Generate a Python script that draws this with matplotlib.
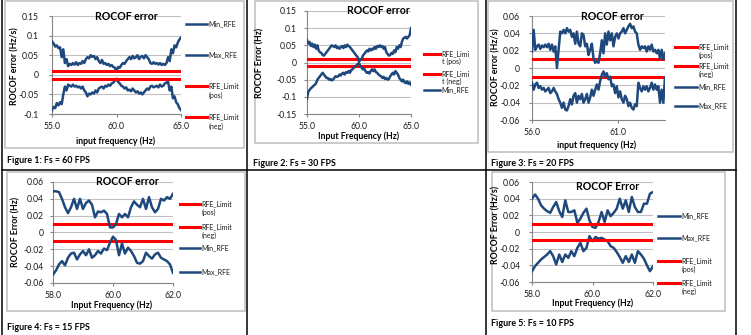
import numpy as np
import matplotlib
matplotlib.use("Agg")
import matplotlib.pyplot as plt
from matplotlib.lines import Line2D
from matplotlib.patches import Rectangle

plt.rcParams['font.family'] = ['Lato', 'DejaVu Sans']

W, H = 751, 335
BLUE = '#1F497D'
RED = '#FF0000'
GRID = '#C0C0C0'
AXIS = '#868686'
LIMIT = 0.01

# Fs = 60 FPS, sweep 55-65 Hz
fs60_max = [0.085, 0.080, 0.072, 0.075, 0.068, 0.070, 0.045, 0.065,
            0.030, 0.040, 0.022, 0.028, 0.025, 0.030, 0.026, 0.032,
            0.025, 0.030, 0.028, 0.035, 0.030, 0.040, 0.045, 0.042,
            0.050, 0.046, 0.048, 0.040, 0.045, 0.035, 0.030, 0.038,
            0.028, 0.030, 0.025, 0.028, 0.022, 0.025, 0.020, 0.018,
            0.010, 0.020, 0.018, 0.025, 0.030, 0.028, 0.035, 0.040,
            0.045, 0.040, 0.048, 0.042, 0.045, 0.050, 0.040, 0.046,
            0.048, 0.042, 0.050, 0.045, 0.040, 0.030, 0.028, 0.032,
            0.028, 0.030, 0.026, 0.030, 0.025, 0.028, 0.025, 0.030,
            0.045, 0.035, 0.065, 0.055, 0.075, 0.070, 0.082, 0.090,
            0.095]
fs60_min = [-0.090, -0.082, -0.085, -0.072, -0.078, -0.070, -0.075, -0.050,
            -0.030, -0.040, -0.025, -0.028, -0.030, -0.025, -0.030, -0.028,
            -0.032, -0.030, -0.035, -0.030, -0.040, -0.045, -0.055, -0.048,
            -0.050, -0.045, -0.048, -0.040, -0.045, -0.035, -0.032, -0.030,
            -0.035, -0.028, -0.030, -0.025, -0.028, -0.022, -0.020, -0.015,
            -0.010, -0.018, -0.022, -0.028, -0.030, -0.035, -0.032, -0.040,
            -0.038, -0.042, -0.035, -0.040, -0.045, -0.042, -0.048, -0.045,
            -0.050, -0.045, -0.040, -0.035, -0.038, -0.030, -0.028, -0.032,
            -0.030, -0.028, -0.032, -0.025, -0.030, -0.028, -0.022, -0.020,
            -0.018, -0.040, -0.030, -0.060, -0.055, -0.070, -0.075, -0.085,
            -0.090]

# Fs = 30 FPS, sweep 55-65 Hz
fs30_max = [0.065, 0.055, 0.060, 0.048, 0.055, 0.045, 0.052, 0.040,
            0.050, 0.035, 0.030, 0.028, 0.022, 0.020, 0.025, 0.030,
            0.035, 0.040, 0.045, 0.050, 0.048, 0.045, 0.050, 0.042,
            0.045, 0.040, 0.045, 0.048, 0.042, 0.050, 0.045, 0.052,
            0.048, 0.045, 0.040, 0.035, 0.030, 0.025, 0.020, 0.015,
            0.002, 0.008, 0.010, 0.020, 0.025, 0.030, 0.035, 0.032,
            0.040, 0.035, 0.040, 0.038, 0.045, 0.040, 0.048, 0.045,
            0.050, 0.045, 0.048, 0.040, 0.045, 0.030, 0.025, 0.020,
            0.022, 0.028, 0.025, 0.035, 0.030, 0.045, 0.040, 0.050,
            0.045, 0.060, 0.070, 0.072, 0.075, 0.070, 0.075, 0.080,
            0.100]
fs30_min = [-0.105, -0.085, -0.080, -0.075, -0.072, -0.068, -0.065, -0.060,
            -0.050, -0.045, -0.040, -0.035, -0.030, -0.035, -0.040, -0.045,
            -0.045, -0.050, -0.048, -0.052, -0.050, -0.045, -0.040, -0.042,
            -0.040, -0.035, -0.038, -0.032, -0.030, -0.035, -0.028, -0.030,
            -0.025, -0.030, -0.022, -0.020, -0.015, -0.012, -0.008, -0.005,
            -0.002, -0.010, -0.015, -0.020, -0.018, -0.025, -0.030, -0.028,
            -0.032, -0.025, -0.020, -0.025, -0.020, -0.028, -0.030, -0.035,
            -0.038, -0.040, -0.045, -0.042, -0.048, -0.045, -0.050, -0.048,
            -0.040, -0.035, -0.030, -0.035, -0.025, -0.030, -0.035, -0.045,
            -0.050, -0.055, -0.050, -0.058, -0.060, -0.055, -0.062, -0.058,
            -0.065]

# Fs = 20 FPS, sweep 56-63.7 Hz
fs20_max = [0.019, 0.044, 0.021, 0.025, 0.027, 0.022, 0.026, 0.024, 0.027,
            0.024, 0.028, 0.021, 0.027, 0.019, 0.025, 0.000, 0.021, 0.042,
            0.040, 0.044, 0.040, 0.046, 0.042, 0.044, 0.036, 0.040, 0.028,
            0.042, 0.028, 0.025, 0.040, 0.038, 0.025, 0.028, 0.015, 0.021,
            0.028, 0.011, 0.006, 0.008, 0.006, 0.017, 0.032, 0.017, 0.040,
            0.027, 0.042, 0.032, 0.040, 0.025, 0.036, 0.040, 0.034, 0.040,
            0.042, 0.046, 0.040, 0.044, 0.048, 0.051, 0.046, 0.048, 0.042,
            0.040, 0.027, 0.021, 0.025, 0.023, 0.025, 0.019, 0.025, 0.021,
            0.027, 0.019, 0.021, 0.017, 0.021, 0.011, 0.021, 0.010, 0.017]
fs20_min = [-0.017, -0.025, -0.019, -0.017, -0.023, -0.021, -0.025, -0.023, -0.027,
            -0.025, -0.023, -0.029, -0.027, -0.023, -0.027, -0.030, -0.036, -0.040,
            -0.046, -0.040, -0.048, -0.049, -0.044, -0.036, -0.042, -0.032, -0.029,
            -0.040, -0.032, -0.036, -0.030, -0.040, -0.036, -0.030, -0.040, -0.034,
            -0.025, -0.032, -0.025, -0.019, -0.025, -0.015, -0.008, -0.004, -0.010,
            -0.006, -0.013, -0.010, -0.021, -0.019, -0.029, -0.021, -0.034, -0.027,
            -0.036, -0.040, -0.032, -0.036, -0.044, -0.040, -0.046, -0.048, -0.042,
            -0.044, -0.017, -0.023, -0.027, -0.021, -0.025, -0.021, -0.027, -0.023,
            -0.017, -0.025, -0.019, -0.025, -0.021, -0.040, -0.025, -0.040, -0.011]

# Fs = 15 FPS, sweep 58-62 Hz
fs15_max = [0.049, 0.049, 0.048, 0.040, 0.030, 0.023, 0.030, 0.040, 0.028,
            0.040, 0.028, 0.035, 0.038, 0.033, 0.018, 0.025, 0.024, 0.026,
            0.022, 0.006, 0.006, 0.010, 0.022, 0.018, 0.022, 0.018, 0.030,
            0.037, 0.033, 0.030, 0.040, 0.028, 0.042, 0.030, 0.024, 0.028,
            0.040, 0.038, 0.042, 0.040, 0.046]
fs15_min = [-0.050, -0.045, -0.038, -0.034, -0.039, -0.030, -0.025, -0.024, -0.032,
            -0.026, -0.022, -0.027, -0.020, -0.030, -0.027, -0.022, -0.025, -0.019,
            -0.021, -0.012, -0.005, -0.009, -0.027, -0.013, -0.025, -0.018, -0.022,
            -0.028, -0.036, -0.037, -0.034, -0.024, -0.028, -0.031, -0.026, -0.024,
            -0.030, -0.032, -0.034, -0.038, -0.048]

# Fs = 10 FPS, sweep 58-62 Hz
fs10_max = [0.040, 0.045, 0.040, 0.032, 0.028, 0.025, 0.023, 0.030, 0.036,
            0.025, 0.018, 0.038, 0.024, 0.024, 0.026, 0.011, 0.016, 0.023,
            0.028, 0.014, 0.006, 0.005, 0.012, 0.024, 0.012, 0.026, 0.019,
            0.023, 0.028, 0.040, 0.028, 0.038, 0.024, 0.042, 0.030, 0.024,
            0.024, 0.034, 0.034, 0.046, 0.048]
fs10_min = [-0.047, -0.041, -0.037, -0.033, -0.030, -0.027, -0.023, -0.029, -0.039,
            -0.027, -0.036, -0.027, -0.031, -0.023, -0.029, -0.019, -0.013, -0.023,
            -0.019, -0.005, -0.011, -0.006, -0.008, -0.007, -0.009, -0.011, -0.017,
            -0.019, -0.024, -0.030, -0.037, -0.029, -0.036, -0.027, -0.037, -0.023,
            -0.027, -0.032, -0.040, -0.047, -0.041]


def fx(x):
    return x / W


def fy(y):
    return 1 - y / H


def plot_panel(fig, plot_px, xlim, xticks, ylim, yticks, y_max, y_min, order,
               title, title_xy, ylabel, ylabel_xy, xlabel, xlabel_xy,
               legend, legend_x, box, caption, caption_xy, ypad=6, wrap_gap=8):
    left, top, right, bottom = plot_px
    ax = fig.add_axes([fx(left), fy(bottom), (right - left) / W, (bottom - top) / H])
    x_max = np.linspace(xlim[0], xlim[1], len(y_max))
    x_min = np.linspace(xlim[0], xlim[1], len(y_min))

    lines = {
        'max': lambda z: ax.plot(x_max, y_max, color=BLUE, lw=1.8, zorder=z),
        'min': lambda z: ax.plot(x_min, y_min, color=BLUE, lw=1.8, zorder=z),
        'pos': lambda z: ax.axhline(LIMIT, color=RED, lw=2.2, zorder=z),
        'neg': lambda z: ax.axhline(-LIMIT, color=RED, lw=2.2, zorder=z),
    }
    for i, key in enumerate(order):
        lines[key](3 + i)

    ax.set_xlim(xlim)
    ax.set_ylim(ylim)
    ax.set_xticks(xticks)
    ax.set_xticklabels([f"{v:.1f}" for v in xticks])
    ax.set_yticks(yticks)
    ax.set_yticklabels([f"{v:g}" for v in yticks])
    ax.grid(axis='y', color=GRID, lw=0.8)
    ax.set_axisbelow(True)
    for s in ('top', 'right'):
        ax.spines[s].set_visible(False)
    for s in ('left', 'bottom'):
        ax.spines[s].set_color(AXIS)
        ax.spines[s].set_linewidth(0.8)
    ax.tick_params(axis='both', length=2.5, width=0.8, color=AXIS,
                   labelsize=6.2, labelcolor='#1a1a1a')
    ax.tick_params(axis='y', pad=ypad)
    ax.tick_params(axis='x', pad=3.5)
    ax.patch.set_alpha(0)

    fig.text(fx(title_xy[0]), fy(title_xy[1]), title, ha='center', va='center',
             fontsize=7.6, fontweight='bold')
    fig.text(fx(ylabel_xy[0]), fy(ylabel_xy[1]), ylabel, ha='center', va='center',
             rotation=90, fontsize=6.3, fontweight='bold')
    fig.text(fx(xlabel_xy[0]), fy(xlabel_xy[1]), xlabel, ha='center', va='center',
             fontsize=6.3, fontweight='bold')

    # legend drawn by hand, entries stacked to the right of the plot
    x0, x1 = legend_x
    for label, color, y in legend:
        fig.add_artist(Line2D([fx(x0), fx(x1)], [fy(y), fy(y)], color=color,
                              lw=2.2 if color == RED else 1.8))
        for k, part in enumerate(label.split('\n')):
            fig.text(fx(x1 + 1.5), fy(y + wrap_gap * k), part, ha='left', va='center',
                     fontsize=5.0, color='#1a1a1a')

    bl, bt, br, bb = box
    fig.add_artist(Rectangle((fx(bl), fy(bb)), (br - bl) / W, (bb - bt) / H,
                             transform=fig.transFigure, fill=False,
                             edgecolor='#BDBDBD', lw=1.1))
    fig.text(fx(caption_xy[0]), fy(caption_xy[1]), caption, ha='left', va='center',
             fontsize=6.4, fontweight='bold')
    return ax


fig = plt.figure(figsize=(W / 100, H / 100), dpi=100)

plot_panel(fig, (52, 16, 181, 114), (55, 65), [55, 60, 65], (-0.1, 0.15),
           [-0.1, -0.05, 0, 0.05, 0.1, 0.15], fs60_max, fs60_min,
           ['min', 'max', 'pos', 'neg'],
           "ROCOF error", (126, 17), "ROCOF error (Hz/s)", (15, 66),
           "input frequency (Hz)", (116, 141),
           [("Min_RFE", BLUE, 24), ("Max_RFE", BLUE, 55),
            ("RFE_Limit\n(pos)", RED, 86), ("RFE_Limit\n(neg)", RED, 117)],
           (186, 207), (5, 1, 244, 148), "Figure 1: Fs = 60 FPS", (7, 160), ypad=7,
           wrap_gap=9)

plot_panel(fig, (307, 11, 411, 114), (55, 65), [55, 60, 65], (-0.15, 0.15),
           [-0.15, -0.1, -0.05, 0, 0.05, 0.1, 0.15], fs30_max, fs30_min,
           ['pos', 'neg', 'min', 'max'],
           "ROCOF error", (378, 11), "ROCOF Error (Hz)", (260, 63),
           "Input Frequency (Hz)", (359, 136),
           [("RFE_Limi\nt (pos)", RED, 54), ("RFE_Limi\nt (neg)", RED, 74),
            ("Min_RFE", BLUE, 90)],
           (424, 440), (255, 1, 478, 143), "Figure 2: Fs = 30 FPS", (253, 163), ypad=5,
           wrap_gap=7.5)

plot_panel(fig, (532, 16, 665, 120), (56, 63.7), [56, 61], (-0.06, 0.06),
           [-0.06, -0.04, -0.02, 0, 0.02, 0.04, 0.06], fs20_max, fs20_min,
           ['pos', 'neg', 'min', 'max'],
           "ROCOF error", (612, 16), "ROCOF error (Hz/s)", (496, 67),
           "input frequency (Hz)", (597, 145),
           [("RFE_Limit\n(pos)", RED, 47), ("RFE_Limit\n(neg)", RED, 66),
            ("Min_RFE", BLUE, 87), ("Max_RFE", BLUE, 106)],
           (675, 697), (488, 1, 733, 152), "Figure 3: Fs = 20 FPS", (491, 163), ypad=6,
           wrap_gap=8)

plot_panel(fig, (53, 182, 173, 283), (58, 62), [58, 60, 62], (-0.06, 0.06),
           [-0.06, -0.04, -0.02, 0, 0.02, 0.04, 0.06], fs15_max, fs15_min,
           ['pos', 'neg', 'min', 'max'],
           "ROCOF error", (127, 182), "ROCOF Error (Hz)", (16, 232),
           "Input Frequency (Hz)", (112, 305),
           [("RFE_Limit\n(pos)", RED, 204), ("RFE_Limit\n(neg)", RED, 227),
            ("Min_RFE", BLUE, 248), ("Max_RFE", BLUE, 272)],
           (180, 200), (7, 172, 245, 311), "Figure 4: Fs = 15 FPS", (7, 328), ypad=4.5)

plot_panel(fig, (532, 182, 653, 282), (58, 62), [58, 60, 62], (-0.06, 0.06),
           [-0.06, -0.04, -0.02, 0, 0.02, 0.04, 0.06], fs10_max, fs10_min,
           ['min', 'max', 'pos', 'neg'],
           "ROCOF Error", (608, 187), "ROCOF Error (Hz/s)", (496, 225),
           "Input Frequency (Hz)", (593, 303),
           [("Min_RFE", BLUE, 216), ("Max_RFE", BLUE, 238),
            ("RFE_Limit\n(pos)", RED, 261), ("RFE_Limit\n(neg)", RED, 283)],
           (658, 680), (492, 172, 725, 311), "Figure 5: Fs = 10 FPS", (491, 323), ypad=6)

# table grid around the five figures
for x in (2, 247, 486, 736):
    fig.add_artist(Line2D([fx(x), fx(x)], [0, 1], color='black', lw=1.1))
fig.add_artist(Line2D([fx(2), fx(736)], [fy(170), fy(170)], color='black', lw=1.1))

fig.savefig('out.png', dpi=100)
